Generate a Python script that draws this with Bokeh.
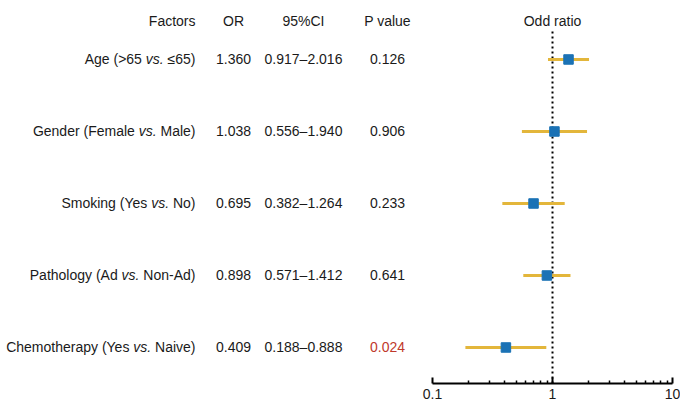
from bokeh.plotting import figure
from bokeh.models import ColumnDataSource, Range1d, FixedTicker, CustomJSTickFormatter
from bokeh.layouts import row
from bokeh.core.properties import value
from bokeh.embed import file_html
from bokeh.resources import INLINE

# ---- data ----
factor_main = ["Age (>65", "Gender (Female", "Smoking (Yes", "Pathology (Ad", "Chemotherapy (Yes"]
factor_ref = ["≤65)", "Male)", "No)", "Non-Ad)", "Naive)"]
odds = [1.360, 1.038, 0.695, 0.898, 0.409]
ci_low = [0.917, 0.556, 0.382, 0.571, 0.188]
ci_high = [2.016, 1.940, 1.264, 1.412, 0.888]
p_values = [0.126, 0.906, 0.233, 0.641, 0.024]
headers = ["Factors", "OR", "95%CI", "P value"]
axis_ticks = [0.1, 1, 10]
null_value = 1

FONT = "Liberation Sans"
FS = 14
BLACK = "#1a1a1a"
RED = "#C0392B"
GOLD = "#E3B63B"
BLUE = "#1B72B5"

# Arial / Liberation Sans advance widths (per 1000 em) for measuring text
W = {" ": 278, "(": 333, ")": 333, ">": 584, "≤": 549, ".": 278, "-": 333,
     "A": 667, "M": 833, "N": 722, "a": 556, "d": 556, "e": 556, "i": 222,
     "l": 222, "n": 556, "o": 556, "s": 500, "v": 500}
for d in "0123456789":
    W[d] = 556


def tw(s):
    return sum(W.get(c, 556) for c in s) * FS / 1000.0


n = len(odds)
ys = [n - i for i in range(n)]
head_y = n + 0.54
yr = Range1d(0.5, n + 0.819)
FRAME_H = 383

# ---- left: table ----
LW = 420
x_label, x_or, x_ci, x_p = 195, 233, 303, 387

lf = figure(frame_width=LW, frame_height=FRAME_H, x_range=Range1d(0, LW), y_range=yr,
            toolbar_location=None, output_backend="svg",
            x_axis_location=None, y_axis_location=None,
            min_border_left=0, min_border_right=0, min_border_top=0, min_border_bottom=22)
lf.grid.visible = False
lf.outline_line_color = None
lf.background_fill_color = "white"
lf.border_fill_color = "white"

src = ColumnDataSource(dict(
    y=ys,
    main=factor_main,
    vs=["vs."] * n,
    suffix=factor_ref,
    off_vs=[-(tw(s) + tw(" ")) for s in factor_ref],
    off_main=[-(tw(s) + tw(" vs. ")) for s in factor_ref],
    orv=["%.3f" % v for v in odds],
    ci=["%.3f–%.3f" % (a, b) for a, b in zip(ci_low, ci_high)],
    pv=["%.3f" % v for v in p_values],
    pcol=[RED if v < 0.05 else BLACK for v in p_values],
))

common = dict(text_font=value(FONT), text_font_size="%dpx" % FS, text_baseline="middle")

lf.text(x=x_label, y="y", text="suffix", source=src, text_align="right", text_color=BLACK, **common)
lf.text(x=x_label, y="y", text="vs", x_offset="off_vs", source=src, text_align="right",
        text_color=BLACK, text_font_style="italic", **common)
lf.text(x=x_label, y="y", text="main", x_offset="off_main", source=src, text_align="right",
        text_color=BLACK, **common)
lf.text(x=x_or, y="y", text="orv", source=src, text_align="center", text_color=BLACK, **common)
lf.text(x=x_ci, y="y", text="ci", source=src, text_align="center", text_color=BLACK, **common)
lf.text(x=x_p, y="y", text="pv", source=src, text_align="center", text_color="pcol", **common)

hsrc = ColumnDataSource(dict(x=[x_label, x_or, x_ci, x_p], y=[head_y] * 4, t=headers,
                             a=["right", "center", "center", "center"]))
lf.text(x="x", y="y", text="t", text_align="a", source=hsrc, text_color=BLACK, **common)

# ---- right: forest plot ----
rf = figure(frame_width=240, frame_height=FRAME_H, x_axis_type="log", x_range=Range1d(0.1, 10),
            y_range=yr, toolbar_location=None, output_backend="svg", y_axis_location=None,
            min_border_left=12, min_border_right=8, min_border_top=0, min_border_bottom=22)
rf.grid.visible = False
rf.outline_line_color = None
rf.background_fill_color = "white"
rf.border_fill_color = "white"

rf.segment(x0=[null_value], x1=[null_value], y0=[0.5], y1=[n + 0.43],
           line_color="black", line_width=2, line_dash="2 3")

fsrc = ColumnDataSource(dict(y=ys, orv=odds, lo=ci_low, hi=ci_high))
rf.segment(x0="lo", x1="hi", y0="y", y1="y", source=fsrc, line_color=GOLD, line_width=3)
rf.scatter(x="orv", y="y", source=fsrc, marker="square", size=9.5, fill_color=BLUE, line_color=BLUE)

rf.text(x=[null_value], y=[head_y], text=["Odd ratio"], text_align="center", text_color=BLACK, **common)

minor = [m * 10 ** e for e in (-1, 0) for m in range(2, 10)]
ax = rf.xaxis[0]
ax.ticker = FixedTicker(ticks=axis_ticks, minor_ticks=minor)
ax.formatter = CustomJSTickFormatter(code="return String(tick)")
ax.axis_line_width = 2
ax.axis_line_color = "black"
ax.major_tick_in = 6
ax.major_tick_out = 0
ax.major_tick_line_width = 2
ax.major_tick_line_color = "black"
ax.minor_tick_in = 3
ax.minor_tick_out = 0
ax.minor_tick_line_width = 1.5
ax.minor_tick_line_color = "black"
ax.major_label_text_font = FONT
ax.major_label_text_font_size = "%dpx" % FS
ax.major_label_text_color = BLACK
ax.major_label_standoff = 5

layout = row(lf, rf)
open("out.html", "w").write(file_html(layout, INLINE))
